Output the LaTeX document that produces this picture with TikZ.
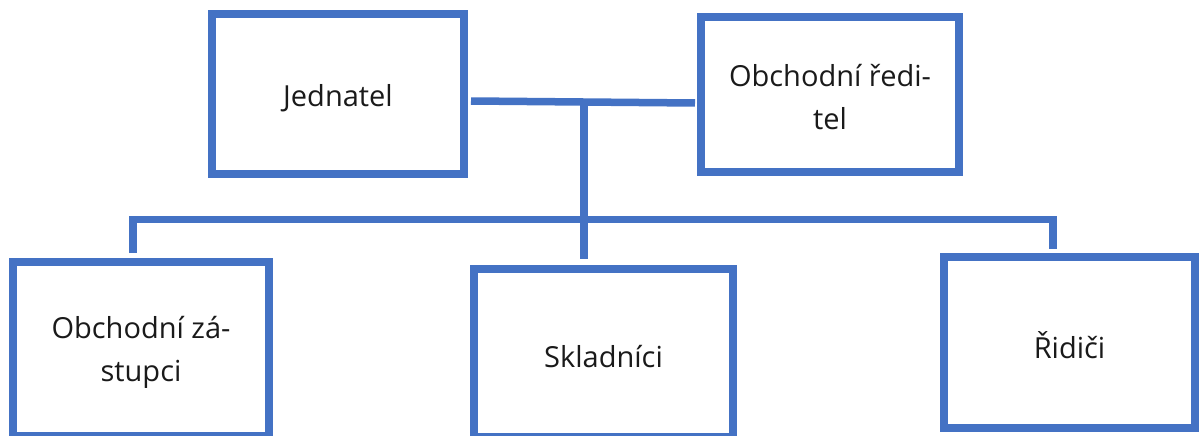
\documentclass[tikz,border=0pt]{standalone}
\usepackage{fontspec}
\setmainfont{Open Sans}
\definecolor{boxblue}{HTML}{4472C4}
\definecolor{txt}{HTML}{1A1A1A}
\begin{document}
\begin{tikzpicture}[x=1pt,y=-1pt,
  orgbox/.style={draw=boxblue, line width=7.5pt, fill=white, inner sep=0pt},
  lbl/.style={text=txt, align=center, inner sep=0pt, font=\fontsize{29}{43}\selectfont},
  conn/.style={draw=boxblue, line width=7.5pt, line cap=butt, line join=miter}]
\useasboundingbox (0,0) rectangle (1203,436);
\clip (0,0) rectangle (1203,436);
% boxes
\node[orgbox, minimum width=252pt, minimum height=160pt] (A) at (338,94) {};
\node[orgbox, minimum width=258pt, minimum height=155pt] (B) at (830,94.5) {};
\node[orgbox, minimum width=256pt, minimum height=174pt] (C) at (141,349) {};
\node[orgbox, minimum width=259pt, minimum height=168pt] (D) at (603.5,353) {};
\node[orgbox, minimum width=251pt, minimum height=171pt] (E) at (1069.5,342.5) {};
% labels
\node[lbl] (Al) at ([yshift=-4pt]A.center) {Jednatel};
\node[lbl] (Bl) at ([yshift=-3pt]B.center) {Obchodní ředi-\\tel};
\node[lbl] (Cl) at ([yshift=-3pt]C.center) {Obchodní zá-\\stupci};
\node[lbl] (Dl) at ([yshift=-4pt]D.center) {Skladníci};
\node[lbl] (El) at ([yshift=-3pt]E.center) {Řidiči};
% connector points
\coordinate (t1) at (471,101);
\coordinate (t2) at (695,103);
\coordinate (j1) at (584,102);
\coordinate (j2) at (584,259);
\coordinate (cl) at (133,253);
\coordinate (cr) at (1053,249);
\coordinate (bar) at (584,219.5);
% connectors
\draw[conn] (t1) -- (t2);
\draw[conn] (j1) -- (j2);
\draw[conn] (cl) |- (bar) -| (cr);
\end{tikzpicture}
\end{document}
